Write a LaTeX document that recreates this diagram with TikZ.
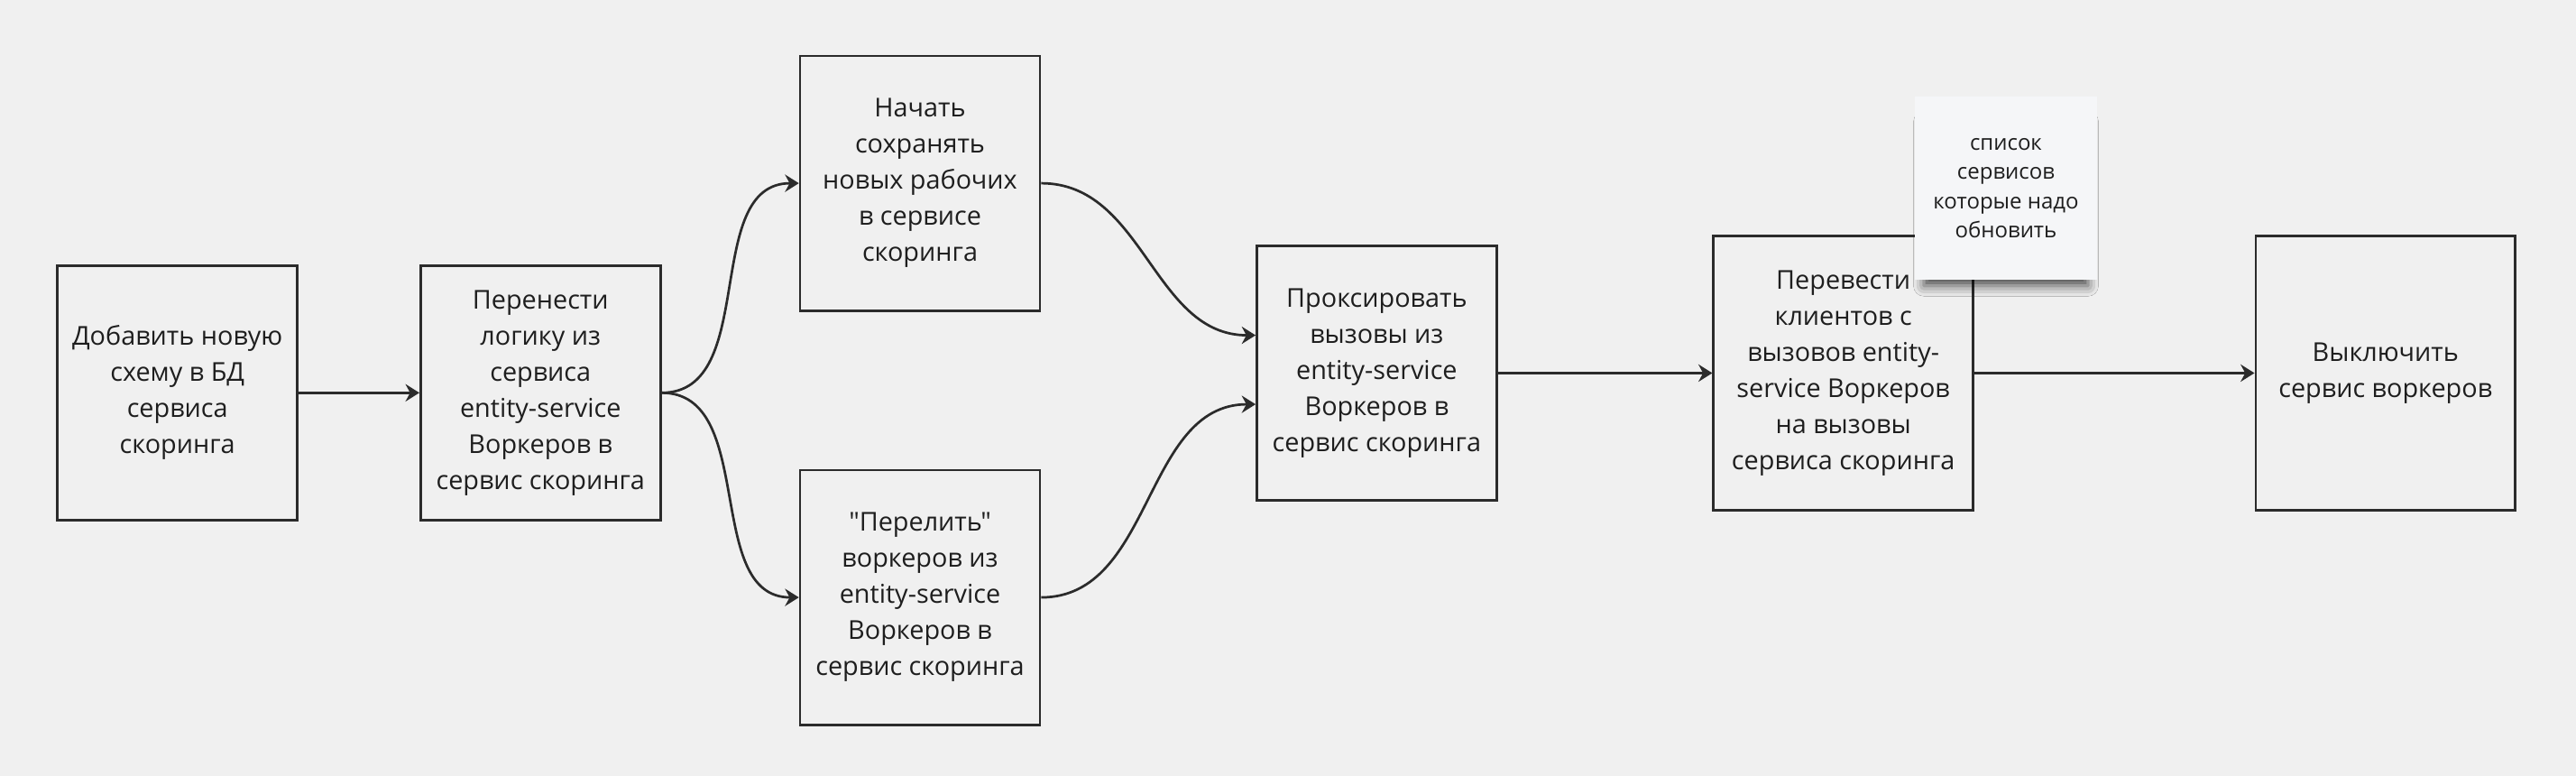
\documentclass[tikz,border=0pt]{standalone}
\usepackage{fontspec}
\setmainfont{Open Sans}[Ligatures=TeXOff]
\usepackage{tikz}
\usetikzlibrary{
  arrows.meta,
  positioning,
  shadows.blur
}
\definecolor{mrbg}  {HTML}{F0F0F0}
\definecolor{mrline}{HTML}{2B2B2B}
\definecolor{mrtext}{HTML}{1E1E1E}
\definecolor{mrnote}{HTML}{F5F6F8}

\begin{document}
\begin{tikzpicture}[
  x=0.02cm, y=-0.02cm,
  every node/.style={font=\fontsize{9}{12.5}\selectfont, text=mrtext},
  box/.style={
    rectangle, draw=mrline, line width=0.85pt, minimum width=2.92cm,
    minimum height=3.1cm, align=center, inner sep=2pt
  },
  widebox/.style={box, minimum width=3.16cm, minimum height=3.34cm},
  note/.style={
    rectangle, fill=mrnote, minimum width=2.22cm, minimum height=2.22cm,
    align=center, font=\fontsize{7.5}{10.2}\selectfont,
    blur shadow={shadow xshift=0pt, shadow yshift=-6pt,
                 shadow opacity=70, shadow scale=0.9, shadow blur radius=4pt}
  },
  arr/.style={-{Stealth[length=4.8pt, width=6pt, inset=1.6pt]}, draw=mrline, line width=0.85pt}
]

% Background
\fill[mrbg] (0,0) rectangle (1568,472);
\useasboundingbox (0,0) rectangle (1568,472);

% Schema
\node[box] (schema) at (108,239)
  {Добавить новую\\схему в БД\\сервиса\\скоринга};

% Move logic
\node[box] (logic) at (329,239)
  {Перенести\\логику из\\сервиса\\entity-service\\Воркеров в\\сервис скоринга};

% Save new workers
\node[box] (save) at (560,111.5)
  {Начать\\сохранять\\новых рабочих\\в сервисе\\скоринга};

% Migrate workers
\node[box] (pour) at (560,363.5)
  {"Перелить"\\воркеров из\\entity-service\\Воркеров в\\сервис скоринга};

% Proxy calls
\node[box] (proxy) at (838,227)
  {Проксировать\\вызовы из\\entity-service\\Воркеров в\\сервис скоринга};

% Move clients
\node[widebox] (clients) at (1122,227)
  {Перевести\\клиентов с\\вызовов entity-\\service Воркеров\\на вызовы\\сервиса скоринга};

% Switch off
\node[widebox] (off) at (1452,227)
  {Выключить\\сервис воркеров};

% Arrows
\draw[arr] (schema) -- (logic);
\draw[arr] (logic.east) to[out=0, in=180] (save.west);
\draw[arr] (logic.east) to[out=0, in=180] (pour.west);
\draw[arr] (save.east) to[out=0, in=180] ([yshift=0.46cm]proxy.west);
\draw[arr] (pour.east) to[out=0, in=180] ([yshift=-0.38cm]proxy.west);
\draw[arr] (proxy) -- (clients);
\draw[arr] (clients) -- (off);

% Sticky note
\node[note] (list) at (1221,114.5)
  {список\\сервисов\\которые надо\\обновить};

\end{tikzpicture}
\end{document}
